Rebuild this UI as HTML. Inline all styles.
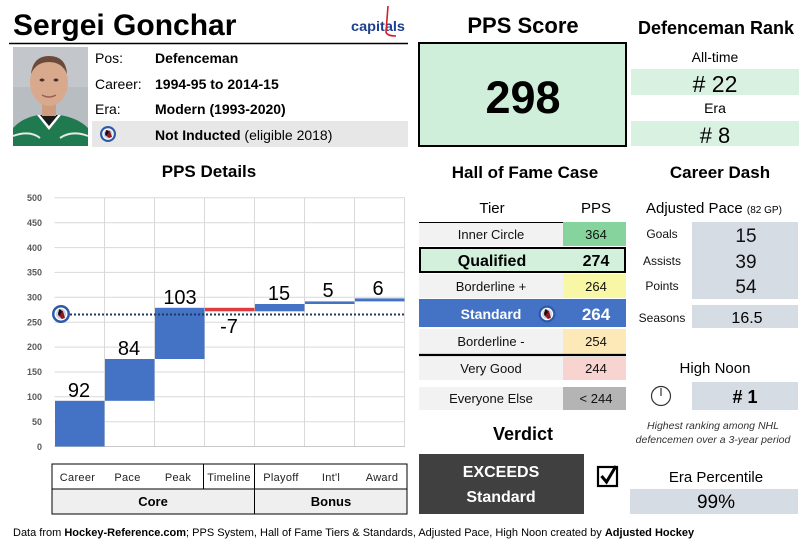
<!DOCTYPE html>
<html><head><meta charset="utf-8"><style>
html,body{margin:0;padding:0;background:#fff;}
svg{display:block;font-family:"Liberation Sans",Arial,sans-serif;}
</style></head><body>
<svg width="809" height="548" viewBox="0 0 809 548" xmlns="http://www.w3.org/2000/svg">
<rect width="809" height="548" fill="#fff"/>

<!-- Header -->
<text x="13" y="35" font-size="30" font-weight="bold" fill="#000">Sergei Gonchar</text>
<line x1="9" y1="43.5" x2="408" y2="43.5" stroke="#000" stroke-width="1.5"/>
<text x="351" y="31" font-size="14" font-weight="bold" fill="#1d3f8f" textLength="54" lengthAdjust="spacingAndGlyphs">capitals</text>
<path d="M388,6 L386,32 Q387,36 396,36" stroke="#d21f2b" stroke-width="1.6" fill="none"/>

<!-- Photo -->
<rect x="13" y="47" width="75" height="99" fill="#b8bdc2"/>
<rect x="13" y="47" width="75" height="40" fill="#c3c7cb"/>
<path d="M13,146 L13,128 Q22,118 38,115 L60,115 Q78,118 88,128 L88,146 Z" fill="#1f7a50"/>
<path d="M37,115 L49,130 L61,115 Z" fill="#fff"/>
<path d="M40,115 L49,126 L58,115 Z" fill="#1b1b1b"/>
<path d="M13,136 Q30,130 40,138 M60,138 Q72,130 88,136" stroke="#e8e8e8" stroke-width="2" fill="none"/>
<rect x="42" y="100" width="14" height="16" fill="#d09c80"/>
<ellipse cx="49" cy="82" rx="19" ry="24" fill="#d8a98c"/>
<path d="M31,74 Q33,56 49,56 Q66,56 67,74 Q62,62 49,62 Q36,62 31,74 Z" fill="#6b4a3a"/>
<ellipse cx="42" cy="80" rx="2.5" ry="1.5" fill="#4a3028"/>
<ellipse cx="56" cy="80" rx="2.5" ry="1.5" fill="#4a3028"/>
<path d="M42,95 Q49,99 56,95" stroke="#9a5e50" stroke-width="1.5" fill="none"/>

<!-- Info -->
<g font-size="14" fill="#000">
<text x="95" y="63">Pos:</text>
<text x="155" y="63" font-weight="bold">Defenceman</text>
<text x="95" y="89">Career:</text>
<text x="155" y="89" font-weight="bold">1994-95 to 2014-15</text>
<text x="95" y="114">Era:</text>
<text x="155" y="114" font-weight="bold">Modern (1993-2020)</text>
</g>
<rect x="92" y="121" width="316" height="26" fill="#e7e7e7"/>
<text x="155" y="140" font-size="14" fill="#000"><tspan font-weight="bold">Not Inducted</tspan> (eligible 2018)</text>
<g transform="translate(108,134)">
<circle r="8" fill="#2e5aa8"/><circle r="5.8" fill="#fff"/><circle r="4.6" fill="#c9d3e8"/>
<path d="M-2,-4 L2,-3 L4,3 L1,4 L-3,1 Z" fill="#8e1a1f"/><path d="M-1,-4 L1,-2 L-2,2 L-3,-1 Z" fill="#111"/>
</g>

<!-- PPS Score -->
<text x="523" y="33" font-size="22" font-weight="bold" text-anchor="middle">PPS Score</text>
<rect x="419" y="43" width="207" height="103" fill="#cfefda" stroke="#000" stroke-width="2"/>
<text x="523" y="113" font-size="45" font-weight="bold" text-anchor="middle">298</text>

<!-- Defenceman Rank -->
<text x="716" y="34" font-size="18" font-weight="bold" text-anchor="middle">Defenceman Rank</text>
<text x="715" y="62" font-size="14" text-anchor="middle">All-time</text>
<rect x="631" y="69" width="168" height="26" fill="#d9f1e0"/>
<text x="715" y="92" font-size="23" text-anchor="middle"># 22</text>
<text x="715" y="113" font-size="14" text-anchor="middle">Era</text>
<rect x="631" y="121" width="168" height="25" fill="#d9f1e0"/>
<text x="715" y="143" font-size="22" text-anchor="middle"># 8</text>

<!-- PPS Details chart -->
<text x="209" y="177" font-size="17" font-weight="bold" text-anchor="middle">PPS Details</text>
<g stroke="#d9d9d9" stroke-width="1">
<line x1="54.5" y1="197.8" x2="405" y2="197.8"/>
<line x1="54.5" y1="222.7" x2="405" y2="222.7"/>
<line x1="54.5" y1="247.6" x2="405" y2="247.6"/>
<line x1="54.5" y1="272.4" x2="405" y2="272.4"/>
<line x1="54.5" y1="297.3" x2="405" y2="297.3"/>
<line x1="54.5" y1="322.2" x2="405" y2="322.2"/>
<line x1="54.5" y1="347.1" x2="405" y2="347.1"/>
<line x1="54.5" y1="372.0" x2="405" y2="372.0"/>
<line x1="54.5" y1="396.8" x2="405" y2="396.8"/>
<line x1="54.5" y1="421.7" x2="405" y2="421.7"/>
<line x1="104.5" y1="197.8" x2="104.5" y2="446.5"/>
<line x1="154.5" y1="197.8" x2="154.5" y2="446.5"/>
<line x1="204.5" y1="197.8" x2="204.5" y2="446.5"/>
<line x1="254.5" y1="197.8" x2="254.5" y2="446.5"/>
<line x1="304.5" y1="197.8" x2="304.5" y2="446.5"/>
<line x1="354.5" y1="197.8" x2="354.5" y2="446.5"/>
<line x1="404.5" y1="197.8" x2="404.5" y2="446.5"/>
</g>
<line x1="54.5" y1="446.5" x2="405" y2="446.5" stroke="#c8c8c8" stroke-width="1"/>
<g font-size="9" font-weight="bold" fill="#595959" text-anchor="end">
<text x="42" y="201">500</text>
<text x="42" y="226">450</text>
<text x="42" y="251">400</text>
<text x="42" y="275.5">350</text>
<text x="42" y="300.5">300</text>
<text x="42" y="325.5">250</text>
<text x="42" y="350">200</text>
<text x="42" y="375">150</text>
<text x="42" y="400">100</text>
<text x="42" y="425">50</text>
<text x="42" y="450">0</text>
</g>
<g fill="#4472c4">
<rect x="55" y="400.8" width="49.5" height="45.7"/>
<rect x="105" y="359.0" width="49.5" height="41.8"/>
<rect x="155" y="307.8" width="49.5" height="51.2"/>
<rect x="255" y="304.0" width="49.5" height="7.3"/>
<rect x="305" y="301.4" width="49.5" height="2.6"/>
<rect x="355" y="298.4" width="49.5" height="3"/>
</g>
<rect x="205" y="307.8" width="49.5" height="3.5" fill="#e03a3e"/>
<line x1="70" y1="314.5" x2="405" y2="314.5" stroke="#1f3864" stroke-width="2" stroke-dasharray="2,2"/>
<g transform="translate(61,314)">
<circle r="9" fill="#2e5aa8"/><circle r="6.5" fill="#fff"/><circle r="5.2" fill="#c9d3e8"/>
<path d="M-2,-5 L2,-3 L4,4 L1,5 L-3,1 Z" fill="#8e1a1f"/><path d="M-1,-5 L1,-2 L-2,2 L-3,-1 Z" fill="#111"/>
</g>
<g font-size="20" fill="#000" text-anchor="middle">
<text x="79" y="397">92</text>
<text x="129" y="355">84</text>
<text x="180" y="304">103</text>
<text x="229" y="333">-7</text>
<text x="279" y="300">15</text>
<text x="328" y="297">5</text>
<text x="378" y="295">6</text>
</g>

<!-- Category table -->
<rect x="52" y="464" width="355" height="25" fill="#fff" stroke="#000" stroke-width="1"/>
<rect x="52" y="489" width="355" height="25" fill="#efefef" stroke="#000" stroke-width="1"/>
<line x1="203.5" y1="464" x2="203.5" y2="489" stroke="#000" stroke-width="1"/>
<line x1="254.5" y1="464" x2="254.5" y2="514" stroke="#000" stroke-width="1"/>
<g font-size="11" fill="#222" text-anchor="middle" letter-spacing="0.3">
<text x="77.5" y="481">Career</text>
<text x="127.5" y="481">Pace</text>
<text x="178" y="481">Peak</text>
<text x="229" y="481">Timeline</text>
<text x="281" y="481">Playoff</text>
<text x="331" y="481">Int'l</text>
<text x="382" y="481">Award</text>
</g>
<text x="153" y="506" font-size="13" font-weight="bold" text-anchor="middle">Core</text>
<text x="331" y="506" font-size="13" font-weight="bold" text-anchor="middle">Bonus</text>

<!-- Footer -->
<text x="13" y="536" font-size="11" fill="#000">Data from <tspan font-weight="bold">Hockey-Reference.com</tspan>; PPS System, Hall of Fame Tiers &amp; Standards, Adjusted Pace, High Noon created by <tspan font-weight="bold">Adjusted Hockey</tspan></text>

<!-- Hall of Fame Case -->
<text x="525" y="178" font-size="17" font-weight="bold" text-anchor="middle">Hall of Fame Case</text>
<text x="492" y="213" font-size="15" text-anchor="middle">Tier</text>
<text x="596" y="213" font-size="15" text-anchor="middle">PPS</text>
<rect x="419" y="222" width="144" height="24" fill="#f2f2f2"/>
<rect x="563" y="222" width="63" height="24" fill="#86d39e"/>
<line x1="419" y1="222.5" x2="563" y2="222.5" stroke="#000" stroke-width="1"/>
<rect x="420" y="248" width="205" height="24" fill="#d3f0dc" stroke="#000" stroke-width="2"/>
<rect x="419" y="274" width="144" height="24" fill="#f2f2f2"/>
<rect x="563" y="274" width="63" height="24" fill="#f8f7a6"/>
<rect x="419" y="299" width="207" height="28" fill="#4472c4"/>
<rect x="419" y="329" width="144" height="25" fill="#f2f2f2"/>
<rect x="563" y="329" width="63" height="25" fill="#fde8b8"/>
<line x1="419" y1="355" x2="626" y2="355" stroke="#000" stroke-width="2.2"/>
<rect x="419" y="357" width="144" height="23" fill="#f2f2f2"/>
<rect x="563" y="357" width="63" height="23" fill="#f8d4d1"/>
<rect x="419" y="387" width="144" height="23" fill="#f2f2f2"/>
<rect x="563" y="387" width="63" height="23" fill="#b4b4b4"/>
<g font-size="13" fill="#111" text-anchor="middle">
<text x="491" y="239">Inner Circle</text>
<text x="596" y="239">364</text>
<text x="491" y="291">Borderline +</text>
<text x="596" y="291">264</text>
<text x="491" y="346">Borderline -</text>
<text x="596" y="346">254</text>
<text x="491" y="373">Very Good</text>
<text x="596" y="373">244</text>
<text x="491" y="403">Everyone Else</text>
<text x="596" y="403">&lt; 244</text>
</g>
<text x="492" y="266" font-size="16" font-weight="bold" text-anchor="middle">Qualified</text>
<text x="596" y="266" font-size="16" font-weight="bold" text-anchor="middle">274</text>
<text x="491" y="319" font-size="14" font-weight="bold" fill="#fff" text-anchor="middle">Standard</text>
<text x="596" y="320" font-size="17" font-weight="bold" fill="#fff" text-anchor="middle">264</text>
<g transform="translate(547,314)">
<circle r="8.5" fill="#2e5aa8"/><circle r="6.2" fill="#fff"/><circle r="5" fill="#c9d3e8"/>
<path d="M-2,-5 L2,-3 L4,4 L1,5 L-3,1 Z" fill="#8e1a1f"/><path d="M-1,-5 L1,-2 L-2,2 L-3,-1 Z" fill="#111"/>
</g>

<!-- Verdict -->
<text x="523" y="440" font-size="18" font-weight="bold" text-anchor="middle">Verdict</text>
<rect x="419" y="454" width="165" height="60" fill="#404040"/>
<text x="501" y="477" font-size="16" font-weight="bold" fill="#fff" text-anchor="middle">EXCEEDS</text>
<text x="501" y="502" font-size="16" font-weight="bold" fill="#fff" text-anchor="middle">Standard</text>
<rect x="598" y="467" width="19" height="19" fill="none" stroke="#000" stroke-width="2.2"/>
<path d="M601.5,476 L606.5,482 L616,466" fill="none" stroke="#000" stroke-width="3"/>

<!-- Career Dash -->
<text x="720" y="178" font-size="17" font-weight="bold" text-anchor="middle">Career Dash</text>
<text x="646" y="213" font-size="15">Adjusted Pace <tspan font-size="10">(82 GP)</tspan></text>
<rect x="692" y="222" width="106" height="77" fill="#d6dce4"/>
<g font-size="12" text-anchor="middle" fill="#111">
<text x="662" y="238">Goals</text>
<text x="662" y="265">Assists</text>
<text x="662" y="290">Points</text>
<text x="662" y="322">Seasons</text>
</g>
<g font-size="19" text-anchor="middle" fill="#111">
<text x="746" y="242">15</text>
<text x="746" y="268">39</text>
<text x="746" y="293">54</text>
</g>
<rect x="692" y="305" width="106" height="23" fill="#d6dce4"/>
<text x="747" y="323" font-size="16" text-anchor="middle">16.5</text>

<!-- High Noon -->
<text x="715" y="373" font-size="15" text-anchor="middle">High Noon</text>
<circle cx="661" cy="396" r="9.5" fill="none" stroke="#333" stroke-width="1.2"/>
<line x1="661" y1="396" x2="661" y2="388" stroke="#333" stroke-width="1.2"/>
<rect x="692" y="382" width="106" height="28" fill="#d6dce4"/>
<text x="745" y="403" font-size="18" font-weight="bold" text-anchor="middle"># 1</text>
<g font-size="10.5" font-style="italic" fill="#333" text-anchor="middle">
<text x="713" y="429">Highest ranking among NHL</text>
<text x="713" y="443">defencemen over a 3-year period</text>
</g>

<!-- Era Percentile -->
<text x="716" y="482" font-size="15" text-anchor="middle">Era Percentile</text>
<rect x="630" y="489" width="168" height="25" fill="#d6dce4"/>
<text x="716" y="508" font-size="19" text-anchor="middle">99%</text>
</svg>
</body></html>
